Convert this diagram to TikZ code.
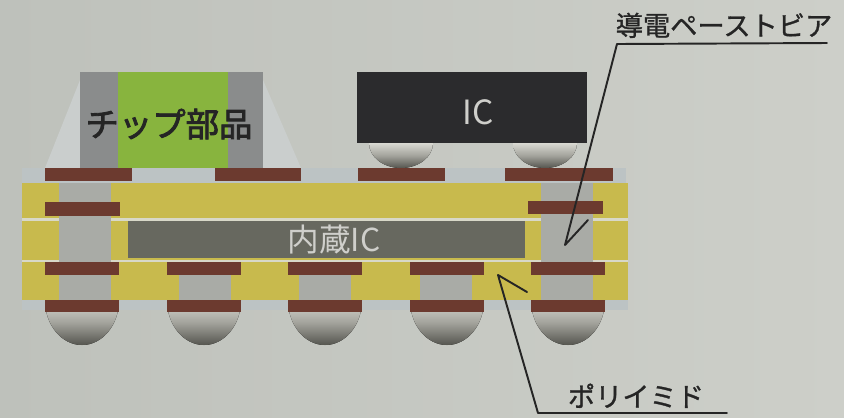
\documentclass[tikz,border=0pt]{standalone}
\usepackage{fontspec}
\setmainfont{Noto Sans CJK JP}
\newfontfamily\heavyjp{Noto Sans CJK JP}[FakeBold=2.5]
\newfontfamily\midjp{Noto Sans CJK JP}[FakeBold=1]
\definecolor{bgleft}{HTML}{BEC1BB}
\definecolor{bgright}{HTML}{CDCFC9}
\definecolor{fillet}{HTML}{CACECD}
\definecolor{termgray}{HTML}{8A8C8C}
\definecolor{chipgreen}{HTML}{88B43E}
\definecolor{icblack}{HTML}{2B2B2D}
\definecolor{resist}{HTML}{BCC3C4}
\definecolor{pi}{HTML}{C8BA4D}
\definecolor{sep}{HTML}{D8D8C8}
\definecolor{viagray}{HTML}{A9ABA6}
\definecolor{padbrown}{HTML}{6C3A2F}
\definecolor{inneric}{HTML}{67685F}
\definecolor{ballhi}{HTML}{D9D9D2}
\definecolor{ballmid}{HTML}{A3A39C}
\definecolor{balllo}{HTML}{55554F}
\definecolor{inkdark}{HTML}{252525}
\definecolor{lighttext}{HTML}{CFCFCB}
\tikzstyle{pad} = [fill=padbrown]
\tikzstyle{via} = [fill=viagray]
\tikzstyle{solder} = [top color=ballhi, bottom color=balllo, middle color=ballmid]
\tikzstyle{tag} = [font=\midjp\fontsize{15.5}{18}\selectfont, text=inkdark, inner sep=1pt]
\tikzstyle{leader} = [line width=1.1pt, draw=inkdark, line join=round, line cap=round]
\begin{document}
\begin{tikzpicture}[x=0.02cm, y=-0.02cm]
\useasboundingbox (0,0) rectangle (844,417);
\shade [left color=bgleft, right color=bgright] (0,0) rectangle (844,417);

% chip part with its solder fillets
\fill [fillet] (80,80) -- (45,168) -- (80,168) -- cycle;
\fill [fillet] (263,80) -- (301,168) -- (263,168) -- cycle;
\fill [termgray] (80,72) rectangle (263,168);
\fill [chipgreen] (118,72) rectangle (228,168);

% IC with its bumps
\foreach \cx in {401,545}
  \fill [solder] (\cx-32,143) -- (\cx+32,143) arc[start angle=0, end angle=180, x radius=32, y radius=25] -- cycle;
\fill [icblack] (357,72) rectangle (587,143);

% board
\fill [resist] (22,168) rectangle (626,183);
\fill [pi] (22,183) rectangle (628,300);
\fill [resist] (22,300) rectangle (628,310);
\fill [sep] (22,218) rectangle (628,220.5);
\fill [sep] (22,259.5) rectangle (628,262);

% vias
\foreach \cx in {85,567}
  \fill [via] (\cx-26,183) rectangle (\cx+26,300);
\foreach \cx in {205,325,446}
  \fill [via] (\cx-26,262) rectangle (\cx+26,300);

% embedded IC
\fill [inneric] (128,221) rectangle (525,258);

% pads
\fill [pad] (45,168) rectangle (132,181);
\fill [pad] (215,168) rectangle (301,181);
\fill [pad] (358,168) rectangle (445,181);
\fill [pad] (505,168) rectangle (613,181);
\fill [pad] (45,202) rectangle (120,216);
\fill [pad] (528,201) rectangle (603,214);
\foreach \cx in {82,204,325,447,568}
  \fill [pad] (\cx-37,262) rectangle (\cx+37,275);

% bottom balls
\foreach \cx in {82,204,325,447,568} {
  \fill [solder] (\cx-37,300) -- (\cx+37,300) arc[start angle=0, end angle=180, x radius=37, y radius=45] -- cycle;
  \fill [pad] (\cx-37,300) rectangle (\cx+37,312);
}

% texts
\node (chip) [font=\heavyjp\fontsize{19}{22}\selectfont, text=inkdark] at (169,124) {チップ部品};
\node (ic) [font=\fontsize{19}{22}\selectfont, text=lighttext] at (478,112) {IC};
\node (inner) [font=\fontsize{18}{22}\selectfont, text=lighttext] at (334,240) {内蔵IC};

% leaders, barb on one side only
\coordinate (viatip) at (565,245);
\coordinate (viaelbow) at (617,44);
\coordinate (viaend) at (827,43);
\node (vialbl) [tag, anchor=south] at (724,40) {導電ペーストビア};
\draw [leader] (viaend) -- (viaelbow) -- (viatip) -- ++(23,-25);

\coordinate (pitip) at (498,275);
\coordinate (pielbow) at (538,413);
\coordinate (piend) at (727,413);
\node (pilbl) [tag, anchor=south] at (636,410) {ポリイミド};
\draw [leader] (piend) -- (pielbow) -- (pitip) -- ++(29,17);
\end{tikzpicture}
\end{document}
